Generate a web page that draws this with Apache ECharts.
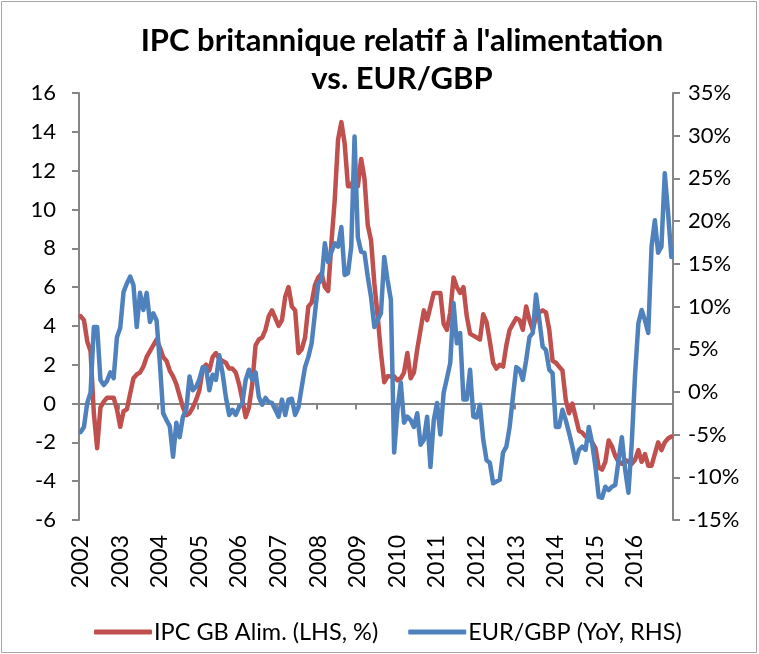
<!DOCTYPE html>
<html>
<head>
<meta charset="utf-8">
<script src="https://cdn.jsdelivr.net/npm/echarts@6/dist/echarts.min.js"></script>
<style>
html,body{margin:0;padding:0;background:#fff;}
#chart{width:759px;height:654px;}
</style>
</head>
<body>
<div id="chart"></div>
<script>
// Years shown as tick labels on the category axis
const years = ['2002','2003','2004','2005','2006','2007','2008','2009','2010','2011','2012','2013','2014','2015','2016'];
const months = ['01','02','03','04','05','06','07','08','09','10','11','12'];

// IPC GB Alimentation (LHS, %) – monthly
const ipcFood = [
  4.5, 4.3, 3.2, 2.7, -0.5, -2.3, -0.2, 0.1, 0.3, 0.3, 0.3, -0.3,
  -1.2, -0.4, -0.3, 0.5, 1.3, 1.5, 1.6, 1.9, 2.4, 2.7, 3.0, 3.3,
  2.9, 2.4, 2.2, 1.7, 1.4, 1.0, 0.4, -0.2, -0.6, -0.5, -0.2, 0.2,
  0.7, 1.8, 2.0, 1.7, 2.4, 2.6, 2.3, 2.2, 2.1, 1.8, 1.8, 1.6,
  1.0, 0.2, -0.7, -0.2, 1.0, 3.0, 3.3, 3.4, 3.8, 4.5, 4.8, 4.4,
  4.0, 4.3, 5.5, 6.0, 5.0, 4.8, 2.6, 2.8, 3.4, 5.0, 5.2, 6.1,
  6.5, 6.7, 6.0, 5.8, 8.3, 10.5, 13.6, 14.5, 13.4, 11.2, 11.2, 11.7,
  11.2, 12.6, 11.6, 9.2, 8.4, 6.2, 4.5, 2.6, 1.1, 1.4, 1.4, 1.4,
  1.2, 1.3, 1.6, 2.6, 1.3, 1.6, 2.8, 3.8, 4.8, 4.3, 5.0, 5.7,
  5.7, 5.7, 4.1, 3.8, 4.7, 6.5, 6.0, 5.7, 6.0, 4.5, 3.6, 3.5,
  3.4, 3.3, 4.6, 4.2, 3.2, 2.1, 1.8, 2.0, 1.9, 3.0, 3.8, 4.1,
  4.4, 4.3, 3.8, 5.0, 4.3, 3.8, 4.5, 4.7, 4.8, 4.7, 3.8, 2.2,
  2.1, 1.9, 1.7, 0.2, -0.5, 0.0, -0.7, -1.4, -1.5, -1.7, -1.8, -2.0,
  -2.3, -3.3, -3.4, -3.0, -1.9, -2.2, -2.7, -3.0, -3.1, -2.9, -3.0, -3.1,
  -2.9, -2.4, -3.0, -2.6, -3.2, -3.2, -2.6, -2.0, -2.4, -2.0, -1.8, -1.7
];

// EUR/GBP (YoY, RHS, %) – monthly
const eurGbpYoY = [
  -4.7, -4.1, -1.3, -0.1, 7.6, 7.6, 1.4, 0.8, 1.3, 2.3, 1.6, 6.4,
  7.5, 11.7, 12.7, 13.5, 12.5, 7.6, 11.6, 9.6, 11.6, 8.2, 9.2, 8.4,
  3.4, -2.5, -3.3, -4.0, -7.6, -3.6, -5.3, -2.9, -2.1, 1.8, 0.2, 0.6,
  1.5, 2.9, 2.8, 0.2, 2.0, 1.4, 4.3, 2.2, -0.6, -2.7, -2.1, -2.7,
  -1.8, -1.3, 1.4, 2.6, 1.4, 2.3, -0.6, -1.5, -0.7, -1.2, -1.3, -2.1,
  -2.9, -0.9, -2.7, -0.9, -0.8, -2.7, -1.8, 0.6, 2.9, 4.1, 5.7, 9.2,
  12.7, 13.1, 17.4, 15.2, 16.4, 17.4, 17.0, 19.3, 13.7, 13.9, 17.0, 29.9,
  18.1, 16.4, 16.3, 13.5, 11.1, 7.6, 8.4, 9.2, 15.8, 13.1, 10.8, -7.1,
  -2.1, 1.1, -3.6, -2.9, -3.3, -4.1, -2.5, -6.2, -5.6, -2.9, -8.8, -3.3,
  -1.3, -5.0, -0.1, 1.6, 3.4, 10.4, 5.7, 6.9, -0.9, -0.9, 2.6, -2.9,
  -3.0, -1.5, -5.6, -8.0, -8.3, -10.7, -10.5, -10.3, -7.1, -6.4, -4.1, -0.6,
  2.9, 2.6, 1.4, 3.7, 6.4, 6.9, 11.4, 8.4, 5.3, 4.9, 2.6, 2.2,
  -4.1, -4.1, -2.1, -3.3, -4.8, -6.4, -8.3, -6.8, -6.4, -6.8, -4.1, -6.0,
  -8.8, -12.3, -12.4, -11.1, -11.5, -11.1, -10.9, -8.0, -5.3, -9.1, -11.8, -6.0,
  2.0, 8.0, 9.6, 8.4, 6.9, 17.0, 20.1, 16.3, 17.0, 25.6, 21.0, 15.8
];

const seriesNames = ['IPC GB Alim. (LHS, %)', 'EUR/GBP (YoY, RHS)'];
const titleText = "IPC britannique relatif à l'alimentation\nvs. EUR/GBP";

const categories = [];
years.forEach(y => months.forEach(m => categories.push(y + '-' + m)));

const FONT = 'Lato';
const AXIS_GREY = '#868686';

const chart = echarts.init(document.getElementById('chart'), null, {renderer: 'canvas'});
chart.setOption({
  backgroundColor: '#ffffff',
  animation: false,
  title: {
    text: titleText,
    left: 397,
    top: 17,
    textAlign: 'center',
    textStyle: {fontFamily: FONT, fontWeight: 'bold', fontSize: 31, lineHeight: 38, color: '#000'}
  },
  graphic: [{
    type: 'rect', shape: {x: 1.5, y: 1.5, width: 755, height: 651},
    style: {fill: 'none', stroke: '#a6a6a6', lineWidth: 1}, silent: true, z: -1
  }],
  legend: {
    bottom: 5,
    left: 89,
    itemWidth: 58,
    itemHeight: 5,
    itemGap: 30,
    icon: 'roundRect',
    textStyle: {fontFamily: FONT, fontSize: 23.5, color: '#000', padding: [0, 0, 0, -3]},
    data: seriesNames
  },
  grid: {left: 79, right: 86, top: 93, bottom: 134, containLabel: false},
  xAxis: [{
    type: 'category',
    data: categories,
    boundaryGap: true,
    axisLine: {onZero: true, lineStyle: {color: AXIS_GREY, width: 2}},
    axisTick: {show: true, interval: 11, length: 6, inside: false, lineStyle: {color: AXIS_GREY, width: 2}},
    axisLabel: {show: false},
    splitLine: {show: false}
  }, {
    type: 'category',
    data: categories,
    boundaryGap: true,
    position: 'bottom',
    axisLine: {show: false, onZero: false},
    axisTick: {show: false},
    axisLabel: {
      show: true, interval: 11, rotate: 90, margin: 15,
      fontFamily: FONT, fontSize: 23, color: '#000',
      formatter: v => v.slice(0, 4)
    },
    splitLine: {show: false}
  }],
  yAxis: [{
    type: 'value', min: -6, max: 16, interval: 2, position: 'left',
    axisLine: {show: true, onZero: false, lineStyle: {color: AXIS_GREY, width: 2}},
    axisTick: {show: true, length: 7, lineStyle: {color: AXIS_GREY, width: 2}},
    axisLabel: {fontFamily: FONT, fontSize: 22, color: '#000', margin: 23},
    splitLine: {show: false}
  }, {
    type: 'value', min: -15, max: 35, interval: 5, position: 'right',
    axisLine: {show: true, onZero: false, lineStyle: {color: AXIS_GREY, width: 2}},
    axisTick: {show: true, length: 7, lineStyle: {color: AXIS_GREY, width: 2}},
    axisLabel: {fontFamily: FONT, fontSize: 22, color: '#000', margin: 15, formatter: '{value}%'},
    splitLine: {show: false}
  }],
  series: [{
    name: seriesNames[0], type: 'line', xAxisIndex: 0, yAxisIndex: 0,
    data: ipcFood, showSymbol: false, symbol: 'none',
    lineStyle: {color: '#C0504D', width: 4.5, cap: 'round', join: 'round'},
    itemStyle: {color: '#C0504D'}, z: 2
  }, {
    name: seriesNames[1], type: 'line', xAxisIndex: 0, yAxisIndex: 1,
    data: eurGbpYoY, showSymbol: false, symbol: 'none',
    lineStyle: {color: '#4F81BD', width: 4.5, cap: 'round', join: 'round'},
    itemStyle: {color: '#4F81BD'}, z: 3
  }]
});
</script>
</body>
</html>
